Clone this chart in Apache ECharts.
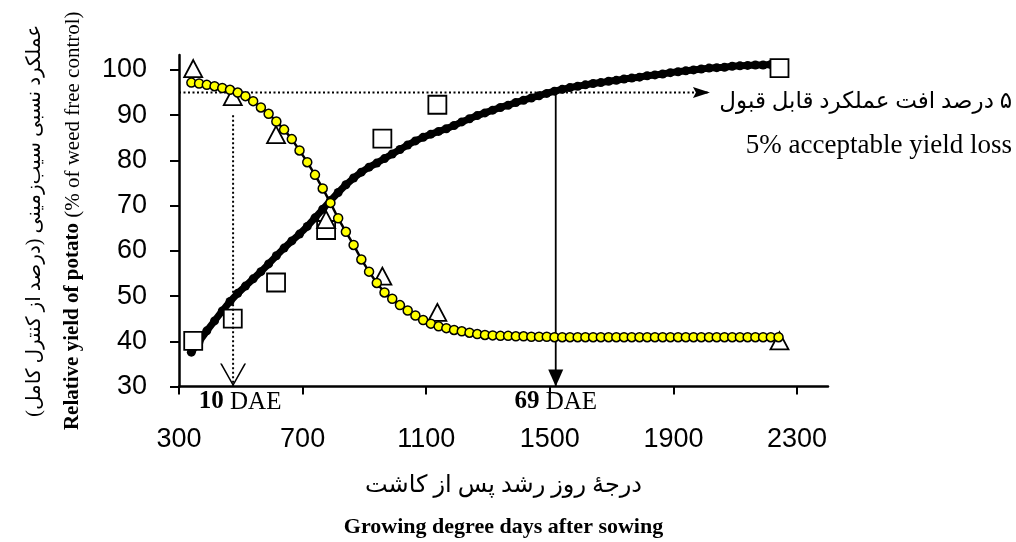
<!DOCTYPE html>
<html>
<head>
<meta charset="utf-8">
<script src="https://cdn.jsdelivr.net/npm/echarts@6/dist/echarts.min.js"></script>
<style>html,body{margin:0;padding:0;background:#fff}#chart{width:1016px;height:542px}</style>
</head>
<body>
<div id="chart"></div>
<script>
// ---- data ----
const fitGDD = [340,365,390,415,440,465,490,515,540,565,590,615,640,665,690,715,740,765,790,815,840,865,890,915,940,965,990,1015,1040,1065,1090,1115,1140,1165,1190,1215,1240,1265,1290,1315,1340,1365,1390,1415,1440,1465,1490,1515,1540,1565,1590,1615,1640,1665,1690,1715,1740,1765,1790,1815,1840,1865,1890,1915,1940,1965,1990,2015,2040,2065,2090,2115,2140,2165,2190,2215,2240];
// black dotted fit (weed-free period, increasing)
const fitWeedFree = [37.6,39.9,42.3,44.5,46.7,48.8,50.6,52.2,53.8,55.4,57.1,58.9,60.6,62.2,63.7,65.4,67.3,69.2,71.1,72.9,74.6,76.1,77.4,78.5,79.4,80.4,81.4,82.4,83.4,84.3,85.1,85.8,86.4,87.0,87.7,88.5,89.2,89.9,90.5,91.1,91.7,92.2,92.8,93.3,93.8,94.3,94.8,95.3,95.7,96.1,96.4,96.7,97.0,97.2,97.5,97.7,98.0,98.2,98.4,98.7,98.9,99.1,99.4,99.6,99.8,100.0,100.2,100.4,100.5,100.6,100.8,100.9,101.0,101.1,101.1,101.2,101.2];
// yellow dotted fit (weed-infested period, decreasing)
const fitWeedy = [97.2,97.0,96.7,96.4,96.0,95.6,95.0,94.2,93.1,91.7,90.3,88.6,86.8,84.7,82.2,79.6,76.8,73.8,70.6,67.2,64.2,61.3,58.1,55.4,52.9,50.8,49.4,48.0,46.8,45.7,44.7,43.9,43.3,42.9,42.5,42.2,41.9,41.6,41.4,41.3,41.2,41.2,41.1,41.1,41.0,41.0,41.0,40.9,40.9,40.9,40.9,40.9,40.9,40.9,40.9,40.9,40.9,40.9,40.9,40.9,40.9,40.9,40.9,40.9,40.9,40.9,40.9,40.9,40.9,40.9,40.9,40.9,40.9,40.9,40.9,40.9,40.9];
const obsGDD = [346, 474, 614, 776, 958, 1136, 2243];
const obsWeedFree = [40.1, 45.0, 53.0, 64.6, 84.8, 92.3, 100.4];   // squares
const obsWeedy = [100.3, 94.1, 85.7, 66.9, 54.4, 46.4, 40.1];      // triangles
const xTicks = [300, 700, 1100, 1500, 1900, 2300];
const yTicks = [30, 40, 50, 60, 70, 80, 90, 100];
const acceptableYield = 95;
const criticalStartGDD = 475;
const criticalStartTop = 90;
const criticalEndGDD = 1519;
const acceptArrowGDD = 2018;
const daeLabels = ['10', '69'];

const yNameFa = 'عملکرد نسبی سیب‌زمینی (درصد از کنترل کامل)';
const yNameEnBold = 'Relative yield of potato';
const yNameEnReg = ' (% of weed free control)';
const xNameFa = 'درجهٔ روز رشد پس از کاشت';
const xNameEn = 'Growing degree days after sowing';
const noteFa = '۵ درصد افت عملکرد قابل قبول';
const noteEn = '5% acceptable yield loss';

// ---- helpers ----
const rtl = s => '\u202B' + s + '\u202C';
const zip = (xs, ys) => xs.map((x, i) => [x, ys[i]]);
const SERIF = "'Liberation Serif','Times New Roman',serif";
const SANS = "'Liberation Sans',Arial,sans-serif";
const FA = "'Liberation Serif','DejaVu Sans',serif";

const chart = echarts.init(document.getElementById('chart'), null, {renderer: 'canvas'});
const option = {
  animation: false,
  backgroundColor: '#fff',
  grid: {left: 179, right: 188, top: 55, bottom: 155.5, containLabel: false, outerBoundsMode: 'none'},
  xAxis: {
    type: 'value', min: 300, max: 2400,
    axisLine: {show: true, onZero: false, lineStyle: {color: '#000', width: 2.5}},
    axisTick: {show: true, customValues: xTicks, length: 8, lineStyle: {color: '#000', width: 2}},
    axisLabel: {customValues: xTicks, margin: 40, fontFamily: SANS, fontSize: 27, color: '#000', formatter: v => String(v)},
    splitLine: {show: false},
    name: '{fa|' + rtl(xNameFa) + '}\n{en|' + xNameEn + '}',
    nameLocation: 'middle', nameGap: 81, nameMoveOverlap: false,
    nameTextStyle: {
      color: '#000', align: 'center',
      rich: {
        fa: {fontFamily: FA, fontSize: 24, lineHeight: 37, color: '#000', align: 'center'},
        en: {fontFamily: SERIF, fontSize: 22, fontWeight: 'bold', lineHeight: 46, color: '#000', align: 'center'}
      }
    }
  },
  yAxis: {
    type: 'value', min: 30, max: 103.3,
    axisLine: {show: true, onZero: false, lineStyle: {color: '#000', width: 2.5}},
    axisTick: {show: true, customValues: yTicks, length: 9, lineStyle: {color: '#000', width: 2}},
    axisLabel: {customValues: yTicks, margin: 32, fontFamily: SANS, fontSize: 27, color: '#000', formatter: v => String(v)},
    splitLine: {show: false},
    name: '{fa|' + rtl(yNameFa) + '}\n{enb|' + yNameEnBold + '}{enr|' + yNameEnReg + '}',
    nameLocation: 'middle', nameRotate: 90, nameGap: 93, nameMoveOverlap: false,
    nameTextStyle: {
      color: '#000', align: 'center',
      rich: {
        fa: {fontFamily: FA, fontSize: 20, lineHeight: 50, color: '#000'},
        enb: {fontFamily: SERIF, fontSize: 21, fontWeight: 'bold', lineHeight: 26, color: '#000'},
        enr: {fontFamily: SERIF, fontSize: 21, lineHeight: 26, color: '#000'}
      }
    }
  },
  graphic: [
    {type: 'text', right: 4, top: 90, z: 10,
     style: {text: rtl(noteFa), fontFamily: FA, fontSize: 23, fill: '#000'}},
    {type: 'text', right: 4, top: 132, z: 10,
     style: {text: noteEn, fontFamily: SERIF, fontSize: 27, fill: '#000'}}
  ],
  series: [
    {
      name: 'Weed-free fit', type: 'line', z: 2, silent: true,
      data: zip(fitGDD, fitWeedFree),
      symbol: 'circle', symbolSize: 9, showSymbol: true, showAllSymbol: true,
      itemStyle: {color: '#000', opacity: 1}, lineStyle: {color: '#000', width: 7}
    },
    {
      name: 'Weed-free observed', type: 'scatter', z: 3, silent: true,
      data: zip(obsGDD, obsWeedFree),
      symbol: 'rect', symbolSize: 18,
      itemStyle: {color: '#fff', borderColor: '#000', borderWidth: 1.8, opacity: 1}
    },
    {
      name: 'Acceptable loss line', type: 'line', z: 4, silent: true, symbol: 'none',
      data: [[300, acceptableYield], [acceptArrowGDD, acceptableYield]],
      lineStyle: {color: '#000', width: 2, type: [2, 2.5]}
    },
    {
      name: 'Critical start line', type: 'line', z: 4, silent: true, symbol: 'none',
      data: [[criticalStartGDD, criticalStartTop], [criticalStartGDD, 30]],
      lineStyle: {color: '#000', width: 2, type: [2, 2.5]}
    },
    {
      name: 'Critical end line', type: 'line', z: 4, silent: true, symbol: 'none',
      data: [[criticalEndGDD, acceptableYield], [criticalEndGDD, 30]],
      lineStyle: {color: '#000', width: 1.8, type: 'solid'}
    },
    {
      name: 'Arrow heads', type: 'scatter', z: 4, silent: true, clip: false,
      itemStyle: {color: '#000', opacity: 1},
      data: [
        {value: [acceptArrowGDD, acceptableYield], symbol: 'path://M0,0 L17,5.5 L0,11 L3,5.5 Z', symbolSize: [17, 11], symbolOffset: ['-50%', 0]},
        {value: [criticalEndGDD, 30], symbol: 'path://M0,0 L15,0 L7.5,17 Z', symbolSize: [15, 17], symbolOffset: [0, '-50%']},
        {value: [criticalStartGDD, 30], symbol: 'path://M0,0 L1.8,0 L13,20 L24.2,0 L26,0 L13,23 Z', symbolSize: [26, 23], symbolOffset: [0, '-50%']}
      ]
    },
    {
      name: 'DAE labels', type: 'scatter', z: 7, silent: true, clip: false,
      symbolSize: 0, itemStyle: {opacity: 1},
      data: [
        {name: daeLabels[0], value: [criticalStartGDD, 30], label: {offset: [7, 0]}},
        {name: daeLabels[1], value: [criticalEndGDD, 30]}
      ],
      label: {
        show: true, position: 'bottom', distance: 3, color: '#000',
        formatter: p => '{b|' + p.name + '}{r| DAE}',
        rich: {
          b: {fontFamily: SERIF, fontSize: 25, fontWeight: 'bold', color: '#000'},
          r: {fontFamily: SERIF, fontSize: 25, color: '#000'}
        }
      }
    },
    {
      name: 'Weedy observed', type: 'scatter', z: 5, silent: true,
      data: zip(obsGDD, obsWeedy),
      symbol: 'triangle', symbolSize: [18, 17],
      itemStyle: {color: '#fff', borderColor: '#000', borderWidth: 1.8, opacity: 1}
    },
    {
      name: 'Weedy fit', type: 'line', z: 6, silent: true,
      data: zip(fitGDD, fitWeedy),
      symbol: 'circle', symbolSize: 9, showSymbol: true, showAllSymbol: true,
      itemStyle: {color: '#ffff00', borderColor: '#000', borderWidth: 1.5, opacity: 1},
      lineStyle: {color: '#000', width: 2.5}
    }
  ]
};
chart.setOption(option);
</script>
</body>
</html>
